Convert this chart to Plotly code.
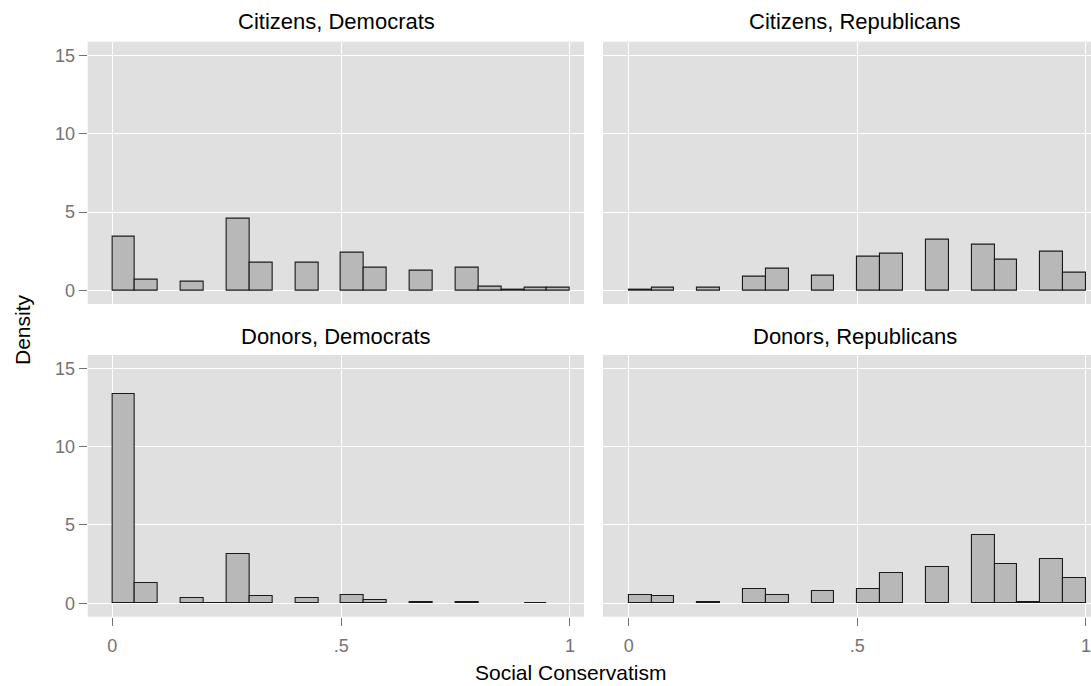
import plotly.graph_objects as go

W, H = 1091, 686

# ---- data (histogram densities, bin width 0.05) ----
bin_left = [0.00, 0.05, 0.10, 0.15, 0.20, 0.25, 0.30, 0.35, 0.40, 0.45,
            0.50, 0.55, 0.60, 0.65, 0.70, 0.75, 0.80, 0.85, 0.90, 0.95]
cit_dem = [3.43, 0.69, None, 0.54, None, 4.57, 1.78, None, 1.76, None,
           2.38, 1.46, None, 1.27, None, 1.46, 0.24, 0.02, 0.15, 0.15]
cit_rep = [0.06, 0.19, None, 0.15, None, 0.86, 1.39, None, 0.94, None,
           2.17, 2.34, None, 3.26, None, 2.92, 1.97, None, 2.49, 1.14]
don_dem = [13.35, 1.28, None, 0.36, 0.04, 3.13, 0.49, None, 0.32, None,
           0.53, 0.23, None, 0.08, None, 0.06, None, None, 0.04, None]
don_rep = [0.53, 0.45, None, 0.06, None, 0.94, 0.53, None, 0.77, None,
           0.94, 1.96, None, 2.34, None, 4.38, 2.51, 0.08, 2.81, 1.64]

panel_titles = ["Citizens, Democrats", "Citizens, Republicans",
                "Donors, Democrats", "Donors, Republicans"]
x_tickvals = [0, 0.5, 1]
x_ticktext = ["0", ".5", "1"]
y_tickvals = [0, 5, 10, 15]
y_ticktext = ["0", "5", "10", "15"]

BAR_FILL = "#b8b8b8"
BAR_LINE = "#1a1a1a"
PANEL_BG = "#e0e0e0"
TICK_COL = "#737373"
FONT = "Liberation Sans, Arial, Helvetica, sans-serif"

def px_x(a, b):
    return [a / W, b / W]

def px_y(top, bottom):
    return [1 - bottom / H, 1 - top / H]

fig = go.Figure()
series = [cit_dem, cit_rep, don_dem, don_rep]
for i, vals in enumerate(series):
    suffix = "" if i == 0 else str(i + 1)
    fig.add_trace(go.Bar(
        x=bin_left, y=vals, width=0.05, offset=0,
        marker=dict(color=BAR_FILL, line=dict(color=BAR_LINE, width=1.1)),
        xaxis="x" + suffix, yaxis="y" + suffix, showlegend=False,
        hoverinfo="x+y",
    ))

left_dom = px_x(87.7, 584)
right_dom = px_x(603, 1091)
top_dom = px_y(41.7, 304)
bot_dom = px_y(355, 616.7)

left_range = [-0.0537, 1.0306]
right_range = [-0.0562, 1.011]
y_range = [-0.86, 15.86]

common_x = dict(showgrid=True, gridcolor="white", gridwidth=1.2,
                zeroline=False, showline=False,
                tickvals=x_tickvals, ticktext=x_ticktext,
                tickfont=dict(family=FONT, size=18, color=TICK_COL),
                ticks="outside", ticklen=8, tickwidth=1, tickcolor=TICK_COL,
                ticklabelstandoff=5)
common_y = dict(showgrid=True, gridcolor="white", gridwidth=1.2,
                zeroline=False, showline=False, range=y_range,
                tickvals=y_tickvals, ticktext=y_ticktext,
                tickfont=dict(family=FONT, size=18, color=TICK_COL),
                ticks="outside", ticklen=8, tickwidth=1, tickcolor=TICK_COL)

layout = dict(
    width=W, height=H,
    margin=dict(l=0, r=0, t=0, b=0),
    paper_bgcolor="white", plot_bgcolor=PANEL_BG,
    bargap=0, showlegend=False,
    font=dict(family=FONT, color="black"),
)
# panel 1: top-left
layout["xaxis"] = dict(common_x, domain=left_dom, range=left_range, anchor="y",
                       showticklabels=False, ticks="")
layout["yaxis"] = dict(common_y, domain=top_dom, anchor="x")
# panel 2: top-right
layout["xaxis2"] = dict(common_x, domain=right_dom, range=right_range, anchor="y2",
                        showticklabels=False, ticks="")
layout["yaxis2"] = dict(common_y, domain=top_dom, anchor="x2",
                        showticklabels=False, ticks="")
# panel 3: bottom-left
layout["xaxis3"] = dict(common_x, domain=left_dom, range=left_range, anchor="y3")
layout["yaxis3"] = dict(common_y, domain=bot_dom, anchor="x3")
# panel 4: bottom-right
layout["xaxis4"] = dict(common_x, domain=right_dom, range=right_range, anchor="y4")
layout["yaxis4"] = dict(common_y, domain=bot_dom, anchor="x4",
                        showticklabels=False, ticks="")

fig.update_layout(**layout)

strip_pos = [(336, 22), (855, 22), (336, 337), (855, 337)]
for title, (cx, cy) in zip(panel_titles, strip_pos):
    fig.add_annotation(text=title, x=cx / W, y=1 - cy / H, xref="paper", yref="paper",
                       showarrow=False, xanchor="center", yanchor="middle",
                       font=dict(family=FONT, size=22, color="black"))

fig.add_annotation(text="Social Conservatism", x=570 / W, y=1 - 672 / H,
                   xref="paper", yref="paper", showarrow=False,
                   xanchor="center", yanchor="middle",
                   font=dict(family=FONT, size=21, color="black"))
fig.add_annotation(text="Density", x=22 / W, y=1 - 330 / H,
                   xref="paper", yref="paper", showarrow=False, textangle=-90,
                   xanchor="center", yanchor="middle",
                   font=dict(family=FONT, size=21, color="black"))

fig.write_html("out.html",
               config={"displayModeBar": False},
               post_script="document.body.style.margin='0';document.body.style.overflow='hidden';")
